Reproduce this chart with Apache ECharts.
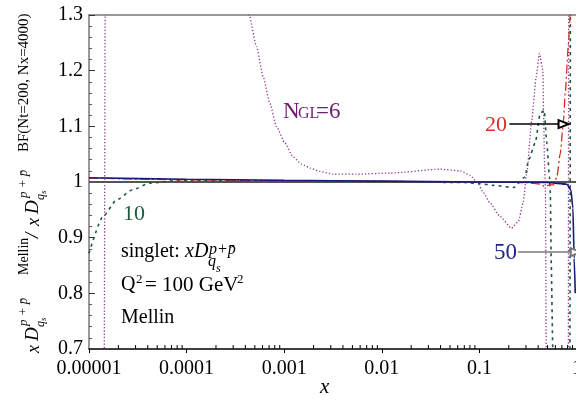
<!DOCTYPE html>
<html>
<head>
<meta charset="utf-8">
<script src="https://cdn.jsdelivr.net/npm/echarts@6/dist/echarts.min.js"></script>
<style>html,body{margin:0;padding:0;background:#fff}#c{width:576px;height:400px}</style>
</head>
<body>
<div id="c"></div>
<script>
// ---- data ----
const xTickLabels = ['0.00001', '0.0001', '0.001', '0.01', '0.1', '1'];
const xMin = 0.00001, xMax = 1;
const yMin = 0.7, yMax = 1.3, yStep = 0.1;
const xMinorTicks = [];
[1e-5, 1e-4, 1e-3, 1e-2, 1e-1].forEach(function (d) { for (let k = 2; k <= 9; k++) xMinorTicks.push(d * k); });

const refLine = [[0.00001, 1], [1, 1]];

const ngl6 = [
  [0.00001, 0.3], [0.0000143, 0.65], [0.0000147, 1.4], [0.00002, 2.5], [0.0001, 3.0], [0.0003, 1.6],
  [0.000437, 1.30], [0.000521, 1.243], [0.000609, 1.189], [0.000714, 1.141], [0.000836, 1.099],
  [0.001016, 1.070], [0.001236, 1.045], [0.00151, 1.032], [0.00184, 1.025], [0.00232, 1.019],
  [0.00318, 1.014], [0.00553, 1.014], [0.0121, 1.016], [0.0395, 1.023], [0.0634, 1.020],
  [0.0804, 1.012], [0.0946, 1.0], [0.110, 0.981], [0.129, 0.962], [0.163, 0.938], [0.213, 0.917],
  [0.251, 0.929], [0.280, 0.962], [0.306, 1.016], [0.344, 1.111], [0.382, 1.189],
  [0.412, 1.231], [0.447, 1.201], [0.455, 1.12], [0.465, 1.03], [0.475, 0.985], [0.487, 0.6],
  [0.814, 0.6], [0.822, 1.4], [0.9, 2.0]
];

const ngl10 = [
  [0.00001, 0.872], [0.0000138, 0.937], [0.0000192, 0.968], [0.000028, 0.986], [0.000042, 0.998],
  [0.000085, 1.003], [0.001, 1.002], [0.01, 1.001], [0.07, 0.999], [0.102, 0.997], [0.139, 0.994],
  [0.223, 0.990], [0.294, 1.009], [0.318, 1.039], [0.373, 1.070], [0.42, 1.123], [0.461, 1.129],
  [0.491, 1.07], [0.522, 1.009], [0.533, 0.98], [0.545, 0.85], [0.565, 0.70], [0.57, 0.65],
  [0.845, 0.65], [0.858, 1.4], [0.9, 2.0]
];

const ngl20 = [
  [0.00001, 1.007], [0.0001, 1.004], [0.001, 1.002], [0.01, 1.001], [0.1, 1.0], [0.3, 0.999],
  [0.43, 0.996], [0.46, 0.992], [0.531, 0.995], [0.574, 0.995], [0.622, 1.009], [0.673, 1.051],
  [0.728, 1.111], [0.757, 1.159], [0.818, 1.249], [0.851, 1.297], [0.9, 1.4]
];

const ngl50 = [
  [0.00001, 1.0077], [0.0001, 1.005], [0.001, 1.003], [0.01, 1.0015], [0.1, 1.0], [0.5, 0.999],
  [0.787, 0.996], [0.865, 0.986], [0.908, 0.953], [0.935, 0.863], [0.96, 0.8]
];

// annotation arrows (data coordinates)
const arrow20 = [[0.203, 1.104], [0.728, 1.104]];
const arrow50 = [[0.249, 0.874], [0.972, 0.874]];

// ---- chart ----
const SERIF = '"Liberation Serif", "DejaVu Serif", serif';
const chart = echarts.init(document.getElementById('c'), null, { renderer: 'canvas' });

function txt(x, y, text, font, fill) {
  return { type: 'text', x: x, y: y, silent: true,
    style: { text: text, font: font, fill: fill || '#000', align: 'left', verticalAlign: 'middle' } };
}
const F = function (size, italic) { return (italic ? 'italic ' : '') + size + 'px ' + SERIF; };
const bar = 'p\u0304';

const yNameGroup = {
  type: 'group', x: 0, y: 353, rotation: Math.PI / 2, silent: true,
  children: [
    txt(0, 34, 'x', F(18, true)),
    txt(12, 33, 'D', F(19, true)),
    txt(27, 24, 'p + ' + bar, F(13, true)),
    txt(26, 41, 'q', F(12, true)),
    txt(32, 44, 's', F(9, true)),
    txt(78, 24, 'Mellin', F(14, false)),
    txt(115, 33, '/', F(19, true)),
    txt(127, 34, 'x', F(18, true)),
    txt(139, 33, 'D', F(19, true)),
    txt(155, 24, 'p + ' + bar, F(13, true)),
    txt(153, 41, 'q', F(12, true)),
    txt(159, 44, 's', F(9, true)),
    txt(201, 24, 'BF(Nt=200, Nx=4000)', F(15, false))
  ]
};

const graphics = [
  yNameGroup,
  txt(320, 387, 'x', F(21, true)),
  // N_GL = 6
  txt(283, 111.6, 'N', F(23), '#6e1c6e'),
  txt(298, 113.8, 'GL', F(16), '#6e1c6e'),
  txt(316, 111.6, '=6', F(23), '#6e1c6e'),
  txt(123, 214, '10', F(22), '#1f5a3b'),
  txt(485, 125, '20', F(22), '#e02a20'),
  txt(494, 253, '50', F(23), '#22228a'),
  // legend box text
  txt(121, 251.5, 'singlet:', F(20)),
  txt(185, 251.5, 'xD', F(20, true)),
  txt(209, 250, 'p+' + bar, F(16, true)),
  txt(208, 261.5, 'q', F(16, true)),
  txt(216, 268.5, 's', F(12, true)),
  txt(121, 285, 'Q', F(20)),
  txt(136, 280, '2', F(13)),
  txt(145, 285, '= 100 GeV', F(21)),
  txt(237, 280, '2', F(13)),
  txt(121, 317.6, 'Mellin', F(20))
];

function arrowLine(pts, color) {
  return {
    type: 'line', data: [], silent: true,
    markLine: {
      silent: true, animation: false,
      symbol: ['none', 'emptyTriangle'], symbolSize: [8, 10],
      label: { show: false },
      lineStyle: { color: color, width: 1.5, type: 'solid' },
      data: [[{ coord: pts[0] }, { coord: pts[1] }]]
    }
  };
}

chart.setOption({
  animation: false,
  backgroundColor: '#fff',
  grid: { left: 89, top: 15, width: 488, height: 334, containLabel: false, outerBoundsMode: 'none' },
  xAxis: [{
    type: 'log', logBase: 10, min: xMin, max: xMax,
    axisLine: { show: true, lineStyle: { color: '#000', width: 1.5 } },
    axisTick: { show: true, inside: false, length: 4, lineStyle: { color: '#000' } },
    minorTick: { show: false },
    splitLine: { show: false },
    axisLabel: {
      margin: 10, color: '#000', fontFamily: SERIF, fontSize: 20,
      formatter: function (v) { const i = Math.round(Math.log10(v)) + 5; return xTickLabels[i] || ''; }
    }
  }, {
    type: 'log', logBase: 10, min: xMin, max: xMax, position: 'top',
    axisLine: { show: true, lineStyle: { color: '#777', width: 1.5 } },
    axisTick: { show: false }, axisLabel: { show: false }, splitLine: { show: false }
  }],
  yAxis: {
    type: 'value', min: yMin, max: yMax, interval: yStep,
    axisLine: { show: true, lineStyle: { color: '#777', width: 1.5 } },
    axisTick: { show: true, inside: true, length: 6, lineStyle: { color: '#333' } },
    minorTick: { show: true, splitNumber: 5, length: 3, lineStyle: { color: '#555' } },
    splitLine: { show: false },
    axisLabel: { margin: 6, color: '#000', fontFamily: SERIF, fontSize: 20 }
  },
  series: [
    {
      type: 'custom', silent: true, clip: false,
      data: xMinorTicks.map(function (v) { return [v, yMin]; }),
      renderItem: function (params, api) {
        const p = api.coord([api.value(0), api.value(1)]);
        return { type: 'line', shape: { x1: p[0], y1: p[1], x2: p[0], y2: p[1] - 4 },
          style: { stroke: '#000', lineWidth: 1 } };
      }
    },
    { type: 'line', data: refLine, showSymbol: false, silent: true,
      lineStyle: { color: '#555', width: 2 } },
    { type: 'line', data: ngl6, showSymbol: false, silent: true, clip: true,
      smooth: 0.2, smoothMonotone: 'x',
      lineStyle: { color: '#8e3b8e', width: 1.3, type: [1.3, 2] } },
    { type: 'line', data: ngl10, showSymbol: false, silent: true, clip: true,
      smooth: 0.2, smoothMonotone: 'x',
      lineStyle: { color: '#1e5a3c', width: 1.6, type: [3, 4] } },
    { type: 'line', data: ngl20, showSymbol: false, silent: true, clip: true,
      smooth: 0.2, smoothMonotone: 'x',
      lineStyle: { color: '#e02a20', width: 1.3, type: [9, 3, 2, 3] } },
    { type: 'line', data: ngl50, showSymbol: false, silent: true, clip: true,
      smooth: 0.2, smoothMonotone: 'x',
      lineStyle: { color: '#1a1a7a', width: 1.6 } },
    arrowLine(arrow20, '#000'),
    arrowLine(arrow50, '#777')
  ],
  graphic: graphics
});
</script>
</body>
</html>
